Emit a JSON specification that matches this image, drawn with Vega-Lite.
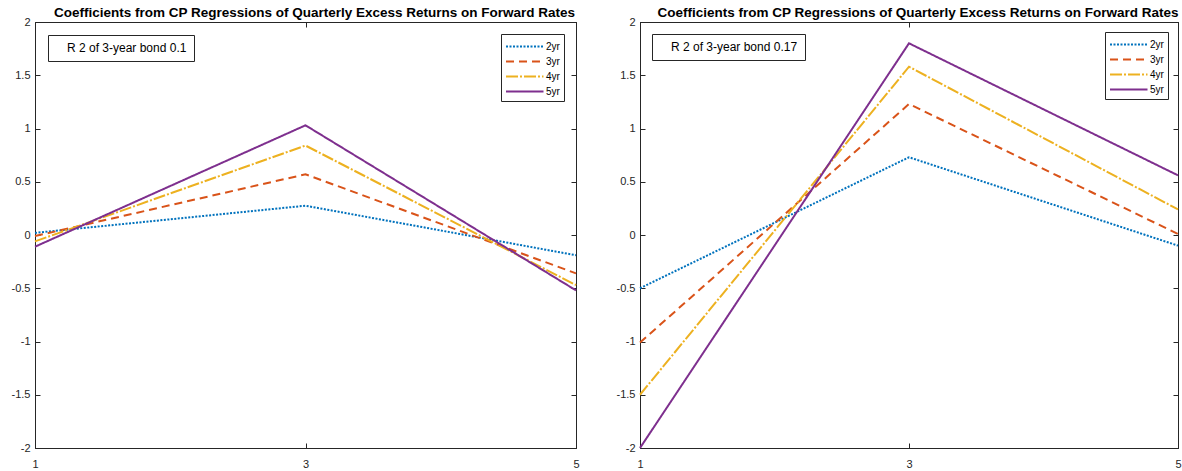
{
  "$schema": "https://vega.github.io/schema/vega-lite/v6.json",
  "background": "white",
  "padding": {"left": 10, "top": 5, "right": 4, "bottom": 5},
  "spacing": 34,
  "resolve": {
    "scale": {"color": "independent", "strokeDash": "independent", "shape": "independent"},
    "legend": {"color": "independent", "strokeDash": "independent", "shape": "independent"}
  },
  "config": {
    "font": "Liberation Sans",
    "view": {"stroke": "#262626", "strokeWidth": 1},
    "axis": {"labelFontSize": 11, "labelColor": "#262626", "domainColor": "#262626", "tickColor": "#262626", "grid": false, "title": null, "labelFlush": false, "labelOverlap": false, "tickSize": -5},
    "title": {"fontSize": 13.5, "fontWeight": "bold", "color": "#000000", "anchor": "middle", "offset": -3, "dx": 9}
  },
  "datasets": {
    "left": [
      {"x": 1, "series": "2yr", "coef": 0.02, "note": "R 2 of 3-year bond 0.1"},
      {"x": 3, "series": "2yr", "coef": 0.275, "note": "R 2 of 3-year bond 0.1"},
      {"x": 5, "series": "2yr", "coef": -0.19, "note": "R 2 of 3-year bond 0.1"},
      {"x": 1, "series": "3yr", "coef": -0.01, "note": "R 2 of 3-year bond 0.1"},
      {"x": 3, "series": "3yr", "coef": 0.57, "note": "R 2 of 3-year bond 0.1"},
      {"x": 5, "series": "3yr", "coef": -0.36, "note": "R 2 of 3-year bond 0.1"},
      {"x": 1, "series": "4yr", "coef": -0.06, "note": "R 2 of 3-year bond 0.1"},
      {"x": 3, "series": "4yr", "coef": 0.84, "note": "R 2 of 3-year bond 0.1"},
      {"x": 5, "series": "4yr", "coef": -0.47, "note": "R 2 of 3-year bond 0.1"},
      {"x": 1, "series": "5yr", "coef": -0.11, "note": "R 2 of 3-year bond 0.1"},
      {"x": 3, "series": "5yr", "coef": 1.03, "note": "R 2 of 3-year bond 0.1"},
      {"x": 5, "series": "5yr", "coef": -0.52, "note": "R 2 of 3-year bond 0.1"}
    ],
    "right": [
      {"x": 1, "series": "2yr", "coef": -0.5, "note": "R 2 of 3-year bond 0.17"},
      {"x": 3, "series": "2yr", "coef": 0.73, "note": "R 2 of 3-year bond 0.17"},
      {"x": 5, "series": "2yr", "coef": -0.1, "note": "R 2 of 3-year bond 0.17"},
      {"x": 1, "series": "3yr", "coef": -1.01, "note": "R 2 of 3-year bond 0.17"},
      {"x": 3, "series": "3yr", "coef": 1.23, "note": "R 2 of 3-year bond 0.17"},
      {"x": 5, "series": "3yr", "coef": 0.01, "note": "R 2 of 3-year bond 0.17"},
      {"x": 1, "series": "4yr", "coef": -1.5, "note": "R 2 of 3-year bond 0.17"},
      {"x": 3, "series": "4yr", "coef": 1.58, "note": "R 2 of 3-year bond 0.17"},
      {"x": 5, "series": "4yr", "coef": 0.24, "note": "R 2 of 3-year bond 0.17"},
      {"x": 1, "series": "5yr", "coef": -2.0, "note": "R 2 of 3-year bond 0.17"},
      {"x": 3, "series": "5yr", "coef": 1.8, "note": "R 2 of 3-year bond 0.17"},
      {"x": 5, "series": "5yr", "coef": 0.56, "note": "R 2 of 3-year bond 0.17"}
    ]
  },
  "hconcat": [
    {
      "width": 541,
      "height": 426,
      "title": "Coefficients from CP Regressions of Quarterly Excess Returns on Forward Rates",
      "data": {"name": "left"},
      "layer": [
        {
          "mark": {"type": "line", "strokeWidth": 2, "clip": false},
          "encoding": {
            "x": {"field": "x", "type": "quantitative", "scale": {"domain": [1, 5], "nice": false, "zero": false}, "axis": {"orient": "bottom", "values": [1, 3, 5], "labelPadding": 15, "labelExpr": "datum.value + ''"}},
            "y": {"field": "coef", "type": "quantitative", "scale": {"domain": [-2, 2], "nice": false, "zero": false}, "axis": {"orient": "left", "values": [-2, -1.5, -1, -0.5, 0, 0.5, 1, 1.5, 2], "labelPadding": 10, "labelExpr": "datum.value + ''"}},
            "color": {"field": "series", "type": "nominal", "scale": {"domain": ["2yr", "3yr", "4yr", "5yr"], "range": ["#0072BD", "#D95319", "#EDB120", "#7E2F8E"]},
              "legend": {"title": null, "orient": "top-right", "offset": 12, "strokeColor": "#262626", "fillColor": "white", "padding": 4, "symbolType": "M-1,0H4", "symbolSize": 225, "symbolStrokeWidth": 2, "labelFontSize": 10, "labelOffset": 24, "rowPadding": 1, "labelColor": "#000000"}},
            "strokeDash": {"field": "series", "type": "nominal", "scale": {"domain": ["2yr", "3yr", "4yr", "5yr"], "range": [[2, 1.5], [8, 5], [12, 2, 2, 2], [1, 0]]},
              "legend": {"title": null, "orient": "top-right", "offset": 12, "strokeColor": "#262626", "fillColor": "white", "padding": 4, "symbolType": "M-1,0H4", "symbolSize": 225, "symbolStrokeWidth": 2, "labelFontSize": 10, "labelOffset": 24, "rowPadding": 1, "labelColor": "#000000"}}
          }
        },
        {
          "mark": {"type": "point", "opacity": 0},
          "encoding": {
            "x": {"field": "x", "type": "quantitative", "axis": {"orient": "top", "values": [1, 3, 5], "labels": false}},
            "y": {"field": "coef", "type": "quantitative", "axis": {"orient": "right", "values": [-2, -1.5, -1, -0.5, 0, 0.5, 1, 1.5, 2], "labels": false}},
            "shape": {"field": "note", "type": "nominal", "legend": {"title": null, "orient": "top-left", "offset": 13, "strokeColor": "#262626", "fillColor": "white", "padding": 7, "symbolSize": 0, "symbolOpacity": 0, "symbolStrokeWidth": 0, "labelOffset": 0, "labelFontSize": 12, "labelLimit": 0, "labelColor": "#000000"}}
          }
        }
      ],
      "resolve": {"axis": {"x": "independent", "y": "independent"}}
    },
    {
      "width": 538,
      "height": 426,
      "title": "Coefficients from CP Regressions of Quarterly Excess Returns on Forward Rates",
      "data": {"name": "right"},
      "layer": [
        {
          "mark": {"type": "line", "strokeWidth": 2, "clip": false},
          "encoding": {
            "x": {"field": "x", "type": "quantitative", "scale": {"domain": [1, 5], "nice": false, "zero": false}, "axis": {"orient": "bottom", "values": [1, 3, 5], "labelPadding": 15, "labelExpr": "datum.value + ''"}},
            "y": {"field": "coef", "type": "quantitative", "scale": {"domain": [-2, 2], "nice": false, "zero": false}, "axis": {"orient": "left", "values": [-2, -1.5, -1, -0.5, 0, 0.5, 1, 1.5, 2], "labelPadding": 10, "labelExpr": "datum.value + ''"}},
            "color": {"field": "series", "type": "nominal", "scale": {"domain": ["2yr", "3yr", "4yr", "5yr"], "range": ["#0072BD", "#D95319", "#EDB120", "#7E2F8E"]},
              "legend": {"title": null, "orient": "top-right", "offset": 10, "strokeColor": "#262626", "fillColor": "white", "padding": 4, "symbolType": "M-1,0H4", "symbolSize": 225, "symbolStrokeWidth": 2, "labelFontSize": 10, "labelOffset": 24, "rowPadding": 1, "labelColor": "#000000"}},
            "strokeDash": {"field": "series", "type": "nominal", "scale": {"domain": ["2yr", "3yr", "4yr", "5yr"], "range": [[2, 1.5], [8, 5], [12, 2, 2, 2], [1, 0]]},
              "legend": {"title": null, "orient": "top-right", "offset": 10, "strokeColor": "#262626", "fillColor": "white", "padding": 4, "symbolType": "M-1,0H4", "symbolSize": 225, "symbolStrokeWidth": 2, "labelFontSize": 10, "labelOffset": 24, "rowPadding": 1, "labelColor": "#000000"}}
          }
        },
        {
          "mark": {"type": "point", "opacity": 0},
          "encoding": {
            "x": {"field": "x", "type": "quantitative", "axis": {"orient": "top", "values": [1, 3, 5], "labels": false}},
            "y": {"field": "coef", "type": "quantitative", "axis": {"orient": "right", "values": [-2, -1.5, -1, -0.5, 0, 0.5, 1, 1.5, 2], "labels": false}},
            "shape": {"field": "note", "type": "nominal", "legend": {"title": null, "orient": "top-left", "offset": 12, "strokeColor": "#262626", "fillColor": "white", "padding": 7, "symbolSize": 0, "symbolOpacity": 0, "symbolStrokeWidth": 0, "labelOffset": 0, "labelFontSize": 12, "labelLimit": 0, "labelColor": "#000000"}}
          }
        }
      ],
      "resolve": {"axis": {"x": "independent", "y": "independent"}}
    }
  ]
}
